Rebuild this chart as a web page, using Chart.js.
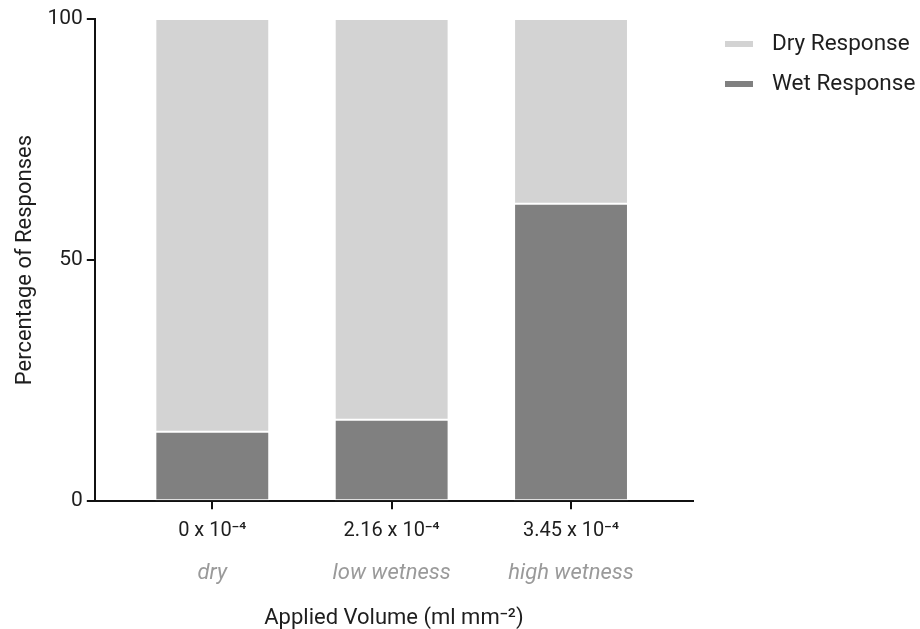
<!DOCTYPE html>
<html>
<head>
<meta charset="utf-8">
<script src="https://cdn.jsdelivr.net/npm/chart.js@4"></script>
<style>
  html, body { margin: 0; padding: 0; background: #ffffff; }
  #wrap { width: 920px; height: 629px; }
</style>
</head>
<body>
<div id="wrap"><canvas id="chart" width="920" height="629"></canvas></div>
<script>
// Applied volume levels (tick labels) and their descriptive names
const volumeLabels = ['0 x 10\u207B\u2074', '2.16 x 10\u207B\u2074', '3.45 x 10\u207B\u2074'];
const wetnessLabels = ['dry', 'low wetness', 'high wetness'];
const positions = [0, 1, 2];

// Percentage of responses per condition
const wetResponse = [14.4, 16.9, 61.7];
const dryResponse = [85.6, 83.1, 38.3];

const yTicks = [0, 50, 100];

const FONT = 'Roboto, "Liberation Sans", sans-serif';
const TEXT = '#1e1e1e';

const toPoints = (vals) => positions.map((p, i) => ({ x: p, y: vals[i] }));

const fixedTicks = (values) => (axis) => {
  axis.ticks = values.map(v => ({ value: v }));
};

// Legend drawn to the right of the plot: short thick swatch, then label,
// listed top-down with the upper stack segment first.
const sideLegend = {
  id: 'sideLegend',
  afterDraw(chart) {
    const { ctx, chartArea } = chart;
    const items = chart.data.datasets.map(ds => ({ label: ds.label, color: ds.backgroundColor })).reverse();
    const x0 = chartArea.right + 32;
    let y = chartArea.top + 25;
    ctx.save();
    ctx.font = '22.5px ' + FONT;
    ctx.textBaseline = 'middle';
    ctx.textAlign = 'left';
    items.forEach(it => {
      ctx.fillStyle = it.color;
      ctx.fillRect(x0, y - 3, 28, 6);
      ctx.fillStyle = TEXT;
      ctx.fillText(it.label, x0 + 47, y);
      y += 40;
    });
    ctx.restore();
  }
};

new Chart(document.getElementById('chart'), {
  type: 'bar',
  data: {
    datasets: [
      {
        label: 'Wet Response',
        data: toPoints(wetResponse),
        backgroundColor: '#808080',
        borderColor: '#ffffff',
        borderWidth: 1,
        borderSkipped: false
      },
      {
        label: 'Dry Response',
        data: toPoints(dryResponse),
        backgroundColor: '#d3d3d3',
        borderColor: '#ffffff',
        borderWidth: 1,
        borderSkipped: false
      }
    ]
  },
  plugins: [sideLegend],
  options: {
    responsive: false,
    animation: false,
    barPercentage: 0.635,
    categoryPercentage: 1.0,
    layout: { padding: { top: 19, right: 227, left: 12, bottom: -3 } },
    plugins: {
      tooltip: { enabled: false },
      legend: { display: false }
    },
    scales: {
      x: {
        type: 'linear',
        stacked: true,
        offset: false,
        min: -0.655,
        max: 2.68,
        weight: 1,
        afterBuildTicks: fixedTicks(positions),
        grid: { offset: false, drawOnChartArea: false, drawTicks: true, tickLength: 8, color: '#111111', lineWidth: 2 },
        border: { display: true, color: '#111111', width: 2 },
        ticks: {
          color: TEXT,
          padding: 10,
          maxRotation: 0,
          font: { family: FONT, size: 20 },
          callback: (v) => volumeLabels[positions.indexOf(v)]
        }
      },
      x2: {
        type: 'linear',
        position: 'bottom',
        offset: false,
        min: -0.655,
        max: 2.68,
        weight: 2,
        afterBuildTicks: fixedTicks(positions),
        grid: { offset: false, display: false, drawTicks: false },
        border: { display: false },
        ticks: {
          color: '#9a9a9a',
          padding: 7,
          maxRotation: 0,
          font: { family: FONT, size: 22, style: 'italic' },
          callback: (v) => wetnessLabels[positions.indexOf(v)]
        },
        title: {
          display: true,
          text: 'Applied Volume (ml mm\u207B\u00B2)',
          color: TEXT,
          padding: { top: 12, bottom: 0 },
          font: { family: FONT, size: 22 }
        }
      },
      y: {
        stacked: true,
        min: 0,
        max: 100,
        afterBuildTicks: fixedTicks(yTicks),
        grid: { drawOnChartArea: false, drawTicks: true, tickLength: 8, color: '#111111', lineWidth: 2 },
        border: { display: true, color: '#111111', width: 2 },
        ticks: {
          color: TEXT,
          padding: 4,
          font: { family: FONT, size: 21 }
        },
        title: {
          display: true,
          text: 'Percentage of Responses',
          color: TEXT,
          padding: { top: 0, bottom: 5 },
          font: { family: FONT, size: 22 }
        }
      }
    }
  }
});
</script>
</body>
</html>
